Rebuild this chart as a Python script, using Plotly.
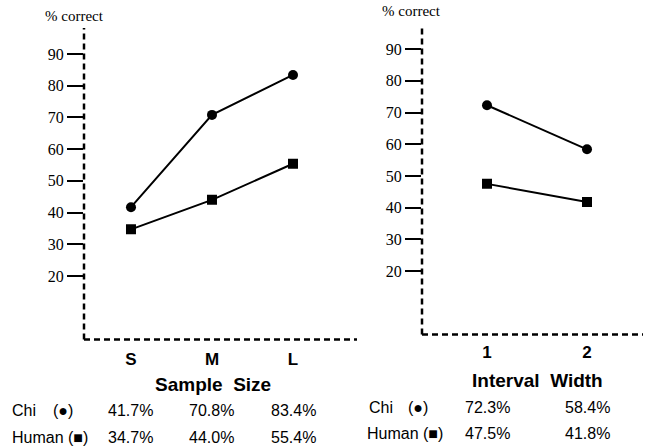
import plotly.graph_objects as go

# ---- data ----
sample_sizes = ["S", "M", "L"]
chi_sample = [41.7, 70.8, 83.4]
human_sample = [34.7, 44.0, 55.4]

interval_widths = [1, 2]
chi_interval = [72.3, 58.4]
human_interval = [47.5, 41.8]

y_ticks = [20, 30, 40, 50, 60, 70, 80, 90]

W, H = 649, 448

def px_x(p):
    return p / W

def px_y(p):
    return 1 - p / H

fig = go.Figure()

line_style = dict(color="black", width=2)

fig.add_trace(go.Scatter(x=sample_sizes, y=chi_sample, mode="lines+markers",
                         line=line_style, marker=dict(symbol="circle", size=10, color="black"),
                         xaxis="x", yaxis="y", showlegend=False))
fig.add_trace(go.Scatter(x=sample_sizes, y=human_sample, mode="lines+markers",
                         line=line_style, marker=dict(symbol="square", size=10, color="black"),
                         xaxis="x", yaxis="y", showlegend=False))
fig.add_trace(go.Scatter(x=interval_widths, y=chi_interval, mode="lines+markers",
                         line=line_style, marker=dict(symbol="circle", size=10, color="black"),
                         xaxis="x2", yaxis="y2", showlegend=False))
fig.add_trace(go.Scatter(x=interval_widths, y=human_interval, mode="lines+markers",
                         line=line_style, marker=dict(symbol="square", size=10, color="black"),
                         xaxis="x2", yaxis="y2", showlegend=False))

serif = "Liberation Serif"
sans = "Liberation Sans"

yax_common = dict(tickvals=y_ticks, ticks="outside", ticklen=16, tickwidth=2,
                  tickcolor="black", showline=False, showgrid=False, zeroline=False,
                  tickfont=dict(family=serif, size=16, color="black"))

fig.update_layout(
    width=W, height=H,
    margin=dict(l=0, r=0, t=0, b=0),
    paper_bgcolor="white", plot_bgcolor="white",
    xaxis=dict(domain=[px_x(84), px_x(357)], range=[-0.58, 2.79], type="category",
               showgrid=False, zeroline=False, showline=False, ticks="outside",
               ticklen=4, tickcolor="rgba(0,0,0,0)",
               tickfont=dict(family=sans, size=17, color="black", weight="bold"),
               anchor="y"),
    yaxis=dict(domain=[px_y(339.4), px_y(28)], range=[0, 98.2], anchor="x", **yax_common),
    xaxis2=dict(domain=[px_x(422), px_x(643)], range=[0.35, 2.56],
                tickvals=interval_widths, ticktext=[str(v) for v in interval_widths],
                showgrid=False, zeroline=False, showline=False, ticks="outside",
                ticklen=2, tickcolor="rgba(0,0,0,0)",
                tickfont=dict(family=sans, size=17, color="black", weight="bold"),
                anchor="y2"),
    yaxis2=dict(domain=[px_y(334.5), px_y(25)], range=[0, 97.6], anchor="x2", **yax_common),
)

dash = dict(color="black", width=2.5, dash="6px,4px")
for xr, yr in [("x domain", "y domain"), ("x2 domain", "y2 domain")]:
    fig.add_shape(type="line", xref=xr, yref=yr, x0=0, x1=0, y0=0, y1=1, line=dash)
    fig.add_shape(type="line", xref=xr, yref=yr, x0=0, x1=1, y0=0, y1=0, line=dash)

def ann(text, x, y, xref="paper", size=16, family=sans, xanchor="center", bold=False):
    fig.add_annotation(text=text, x=x, y=y, xref=xref, yref="paper", showarrow=False,
                       xanchor=xanchor, yanchor="middle",
                       font=dict(family=family, size=size, color="black",
                                 weight="bold" if bold else "normal"))

# axis titles at top
ann("% correct", px_x(74), px_y(16), size=15, family=serif)
ann("% correct", px_x(412), px_y(11), size=15, family=serif)

# x axis titles
ann("Sample&nbsp;&nbsp;Size", px_x(213), px_y(384), size=19, bold=True)
ann("Interval&nbsp;&nbsp;Width", px_x(537), px_y(380), size=19, bold=True)

# table rows left
ann("Chi", px_x(10), px_y(410), xanchor="left")
ann("(●)", px_x(75), px_y(410), xanchor="right")
ann("Human (■)", px_x(10), px_y(437), xanchor="left")
for c, v in zip(sample_sizes, chi_sample):
    ann(f"{v:.1f}%", c, px_y(410), xref="x")
for c, v in zip(sample_sizes, human_sample):
    ann(f"{v:.1f}%", c, px_y(437), xref="x")

# table rows right
ann("Chi", px_x(367), px_y(407), xanchor="left")
ann("(●)", px_x(430), px_y(407), xanchor="right")
ann("Human (■)", px_x(365), px_y(433), xanchor="left")
for c, v in zip(interval_widths, chi_interval):
    ann(f"{v:.1f}%", c, px_y(407), xref="x2")
for c, v in zip(interval_widths, human_interval):
    ann(f"{v:.1f}%", c, px_y(433), xref="x2")

fig.write_html("out.html")
